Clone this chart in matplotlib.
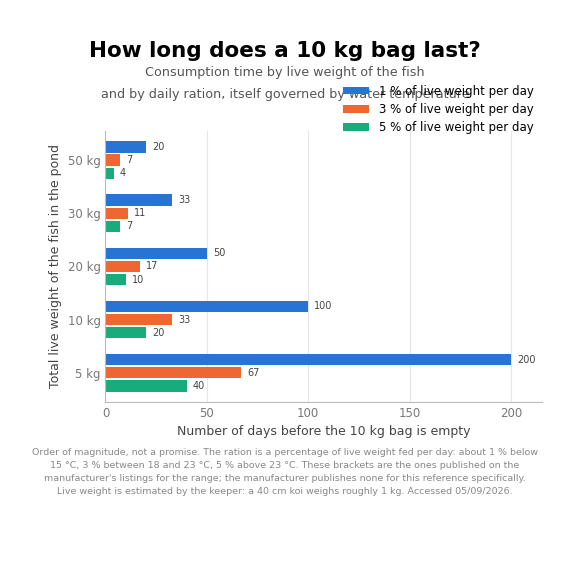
import matplotlib
matplotlib.use("Agg")
import matplotlib.pyplot as plt
import numpy as np

categories = ["5 kg", "10 kg", "20 kg", "30 kg", "50 kg"]
series_names = ["1 % of live weight per day", "3 % of live weight per day", "5 % of live weight per day"]
days_1 = [200, 100, 50, 33, 20]
days_3 = [67, 33, 17, 11, 7]
days_5 = [40, 20, 10, 7, 4]
colors = ["#2774d4", "#ee6632", "#1aab7a"]

fig = plt.figure(figsize=(5.7, 5.7), dpi=100)
ax = fig.add_axes([0.185, 0.295, 0.765, 0.475])
y = np.arange(len(categories))
h = 0.22
for i, (vals, c, n) in enumerate(zip([days_1, days_3, days_5], colors, series_names)):
    pos = y + h * (1 - i) * 1.12
    ax.barh(pos, vals, height=h, color=c, label=n)
    for p, v in zip(pos, vals):
        ax.text(v + 3, p, str(v), va="center", fontsize=7, color="#444444")
ax.set_yticks(y)
ax.set_yticklabels(categories)
ax.set_xlim(0, 215)
ax.set_ylim(-0.55, 4.55)
ax.set_xticks([0, 50, 100, 150, 200])
ax.tick_params(colors="#777777", labelsize=8.5, length=0)
ax.grid(axis="x", color="#e6e6e6", linewidth=0.8)
ax.set_axisbelow(True)
for s in ["top", "right"]:
    ax.spines[s].set_visible(False)
for s in ["left", "bottom"]:
    ax.spines[s].set_color("#bbbbbb")
ax.set_xlabel("Number of days before the 10 kg bag is empty", fontsize=9, color="#444444", labelpad=4)
ax.set_ylabel("Total live weight of the fish in the pond", fontsize=9, color="#444444")

fig.text(0.5, 0.9, "How long does a 10 kg bag last?", ha="center", fontsize=15.5, fontweight="bold")
fig.text(0.5, 0.885, "Consumption time by live weight of the fish", ha="center", va="top", fontsize=9.2, color="#555555")
fig.text(0.5, 0.845, "and by daily ration, itself governed by water temperature", ha="center", va="top", fontsize=9.2, color="#555555")
fig.legend(loc="upper right", bbox_to_anchor=(0.955, 0.87), frameon=False, fontsize=8.5,
           handlelength=2.2, handleheight=0.6, labelspacing=0.45)

fig.text(0.5, 0.13,
         "Order of magnitude, not a promise. The ration is a percentage of live weight fed per day: about 1 % below\n"
         "15 °C, 3 % between 18 and 23 °C, 5 % above 23 °C. These brackets are the ones published on the\n"
         "manufacturer's listings for the range; the manufacturer publishes none for this reference specifically.\n"
         "Live weight is estimated by the keeper: a 40 cm koi weighs roughly 1 kg. Accessed 05/09/2026.",
         ha="center", va="bottom", fontsize=6.8, color="#888888", linespacing=1.55)
fig.savefig("out.png", dpi=100)
